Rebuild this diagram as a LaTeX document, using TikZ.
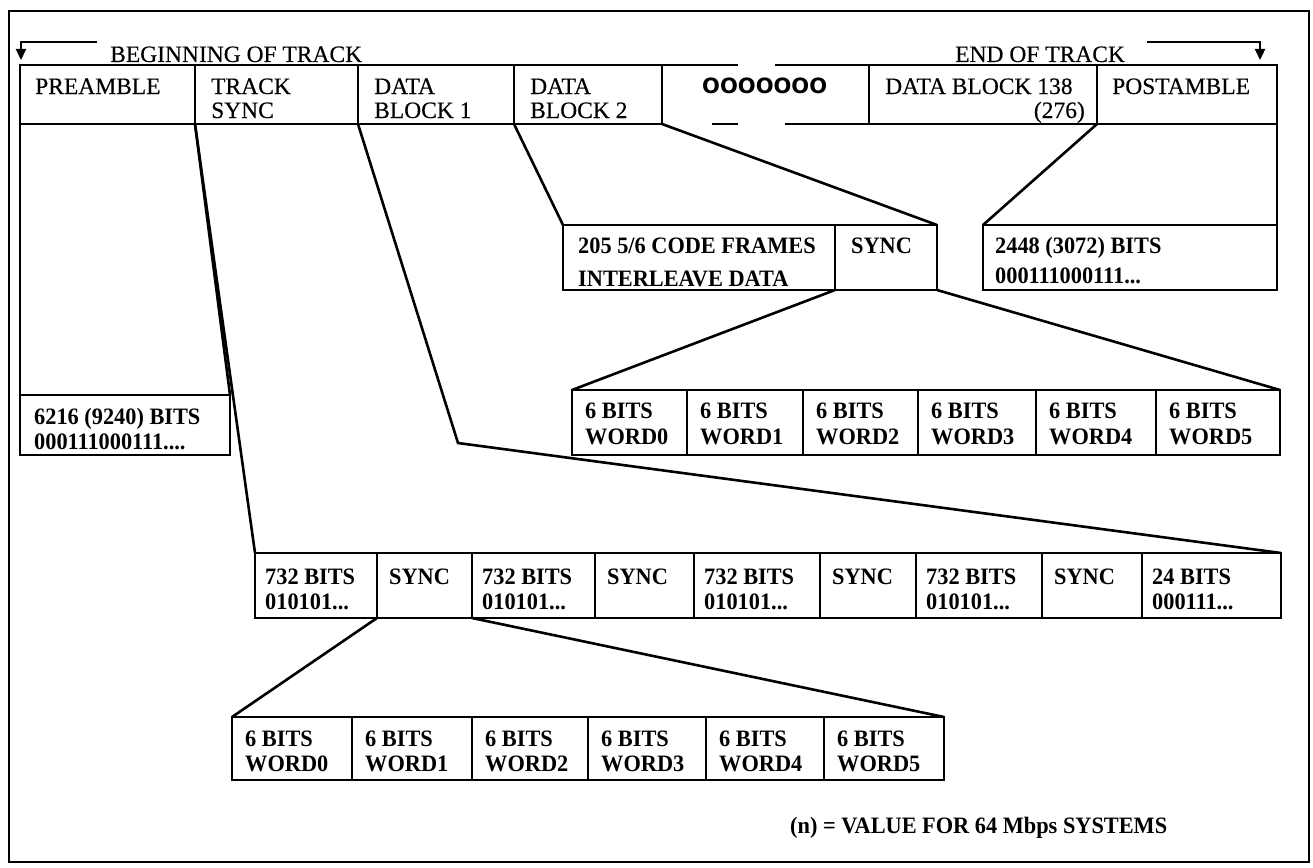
\documentclass[tikz,border=0pt]{standalone}
\usepackage{fontspec}
\setmainfont{Liberation Serif}[FakeBold=0.3]
\newfontfamily\bfam{Liberation Serif}[FakeStretch=0.95]
\newfontfamily\ofam{DejaVu Sans}
\usetikzlibrary{arrows.meta}
\begin{document}
\begin{tikzpicture}[x=1pt,y=-1pt,
  cell/.style={draw, line width=2.2pt, anchor=north west, inner sep=0pt, outer sep=0pt},
  rt/.style={anchor=base west, inner sep=0pt, font=\fontsize{23.5}{26}\selectfont},
  bt/.style={anchor=base west, inner sep=0pt, font=\bfam\bfseries\fontsize{23.5}{26}\selectfont},
  conn/.style={line width=2.6pt},
  edgeline/.style={line width=2.2pt},
  tip/.style={-{Triangle[width=10pt,length=11pt]}},
]
\useasboundingbox (0,0) rectangle (1313,867);
\draw[edgeline] (9,11) rectangle (1309,862);

% top row
\node[cell, minimum width=175pt, minimum height=59pt] (pre) at (20,65) {};
\node[cell, minimum width=163pt, minimum height=59pt] (tsy) at (195,65) {};
\node[cell, minimum width=156pt, minimum height=59pt] (db1) at (358,65) {};
\node[cell, minimum width=148pt, minimum height=59pt] (db2) at (514,65) {};
\node[cell, minimum width=228pt, minimum height=59pt] (db138) at (869,65) {};
\node[cell, minimum width=180pt, minimum height=59pt] (post) at (1097,65) {};

\coordinate (g1) at (738,65);
\coordinate (g2) at (775,65);
\coordinate (g3) at (712,124);
\coordinate (g4) at (738,124);
\coordinate (g5) at (785,124);
\draw[edgeline] (db2.north east) -- (g1);
\draw[edgeline] (g2) -- (db138.north west);
\draw[edgeline] (g3) -- (g4);
\draw[edgeline] (g5) -- (db138.south west);

% track labels and arrows
\node[rt] (tBeg) at (110,62) {BEGINNING OF TRACK};
\node[rt] (tEnd) at (955,62) {END OF TRACK};
\coordinate (aL1) at (97,42);
\coordinate (aL2) at (21,60);
\coordinate (aR1) at (1147,42);
\coordinate (aR2) at (1260,60);
\draw[edgeline, tip] (aL1) -| (aL2);
\draw[edgeline, tip] (aR1) -| (aR2);

\node[rt] (tPre) at (35,94) {PREAMBLE};
\node[rt] (tTs1) at (211,94) {TRACK};
\node[rt] (tTs2) at (211,118) {SYNC};
\node[rt] (tD1a) at (374,94) {DATA};
\node[rt] (tD1b) at (374,118) {BLOCK 1};
\node[rt] (tD2a) at (530,94) {DATA};
\node[rt] (tD2b) at (530,118) {BLOCK 2};
\node[anchor=base west, inner sep=0pt, font=\ofam\bfseries\fontsize{21}{24}\selectfont] (tDots) at (702,93) {OOOOOOO};
\node[rt] (tDb) at (885,94) {DATA BLOCK 138};
\node[rt, anchor=base east] (t276) at (1085,118) {(276)};
\node[rt] (tPost) at (1112,94) {POSTAMBLE};

% data block expansion
\node[cell, minimum width=272pt, minimum height=65pt] (cf) at (563,225) {};
\node[cell, minimum width=102pt, minimum height=65pt] (cs) at (835,225) {};
\node[bt] (tCf1) at (578,253) {205 5/6 CODE FRAMES};
\node[bt] (tCf2) at (578,286) {INTERLEAVE DATA};
\node[bt] (tCs) at (851,253) {SYNC};
\draw[conn] (db2.south west) -- (cf.north west);
\draw[conn] (db2.south east) -- (cs.north east);

% postamble expansion
\node[cell, minimum width=294pt, minimum height=65pt] (pb) at (983,225) {};
\node[bt] (tPb1) at (995,253) {2448 (3072) BITS};
\node[bt] (tPb2) at (995,283) {000111000111...};
\draw[edgeline] (post.south east) -- (pb.north east);
\draw[conn] (post.south west) -- (pb.north west);

% upper words row
\node[cell, minimum width=115pt, minimum height=65pt] (uw0) at (572,390) {};
\node[cell, minimum width=116pt, minimum height=65pt] (uw1) at (687,390) {};
\node[cell, minimum width=115pt, minimum height=65pt] (uw2) at (803,390) {};
\node[cell, minimum width=118pt, minimum height=65pt] (uw3) at (918,390) {};
\node[cell, minimum width=120pt, minimum height=65pt] (uw4) at (1036,390) {};
\node[cell, minimum width=124pt, minimum height=65pt] (uw5) at (1156,390) {};
\foreach \i/\x in {0/585,1/700,2/816,3/931,4/1049,5/1169}{
  \node[bt] (uwa\i) at (\x,418) {6 BITS};
  \node[bt] (uwb\i) at (\x,444) {WORD\i};
}
\draw[conn] (cs.south west) -- (uw0.north west);
\draw[conn] (cs.south east) -- (uw5.north east);

% preamble expansion
\node[cell, minimum width=210pt, minimum height=60pt] (pbx) at (20,395) {};
\node[bt] (tPx1) at (34,424) {6216 (9240) BITS};
\node[bt] (tPx2) at (34,449) {000111000111....};
\draw[edgeline] (pre.south west) -- (pbx.north west);
\draw[conn] (pre.south east) -- (pbx.north east);

% track sync expansion
\node[cell, minimum width=122pt, minimum height=65pt] (lr0) at (255,553) {};
\node[cell, minimum width=95pt, minimum height=65pt] (lr1) at (377,553) {};
\node[cell, minimum width=123pt, minimum height=65pt] (lr2) at (472,553) {};
\node[cell, minimum width=99pt, minimum height=65pt] (lr3) at (595,553) {};
\node[cell, minimum width=126pt, minimum height=65pt] (lr4) at (694,553) {};
\node[cell, minimum width=96pt, minimum height=65pt] (lr5) at (820,553) {};
\node[cell, minimum width=126pt, minimum height=65pt] (lr6) at (916,553) {};
\node[cell, minimum width=100pt, minimum height=65pt] (lr7) at (1042,553) {};
\node[cell, minimum width=139pt, minimum height=65pt] (lr8) at (1142,553) {};
\foreach \i/\x in {0/265,2/482,4/704,6/926}{
  \node[bt] (lra\i) at (\x,584) {732 BITS};
  \node[bt] (lrb\i) at (\x,609) {010101...};
}
\foreach \i/\x in {1/389,3/607,5/832,7/1054}{
  \node[bt] (lrs\i) at (\x,584) {SYNC};
}
\node[bt] (lra8) at (1152,584) {24 BITS};
\node[bt] (lrb8) at (1152,609) {000111...};
\coordinate (bend) at (458,443);
\draw[conn] (tsy.south west) -- (lr0.north west);
\draw[conn] (tsy.south east) -- (bend) -- (lr8.north east);

% sync word expansion
\node[cell, minimum width=120pt, minimum height=63pt] (bw0) at (232,717) {};
\node[cell, minimum width=120pt, minimum height=63pt] (bw1) at (352,717) {};
\node[cell, minimum width=116pt, minimum height=63pt] (bw2) at (472,717) {};
\node[cell, minimum width=118pt, minimum height=63pt] (bw3) at (588,717) {};
\node[cell, minimum width=118pt, minimum height=63pt] (bw4) at (706,717) {};
\node[cell, minimum width=120pt, minimum height=63pt] (bw5) at (824,717) {};
\foreach \i/\x in {0/245,1/365,2/485,3/601,4/719,5/837}{
  \node[bt] (bwa\i) at (\x,746) {6 BITS};
  \node[bt] (bwb\i) at (\x,771) {WORD\i};
}
\draw[conn] (lr1.south west) -- (bw0.north west);
\draw[conn] (lr1.south east) -- (bw5.north east);

\node[bt] (tNote) at (790,833) {(n) = VALUE FOR 64 Mbps SYSTEMS};
\end{tikzpicture}
\end{document}
